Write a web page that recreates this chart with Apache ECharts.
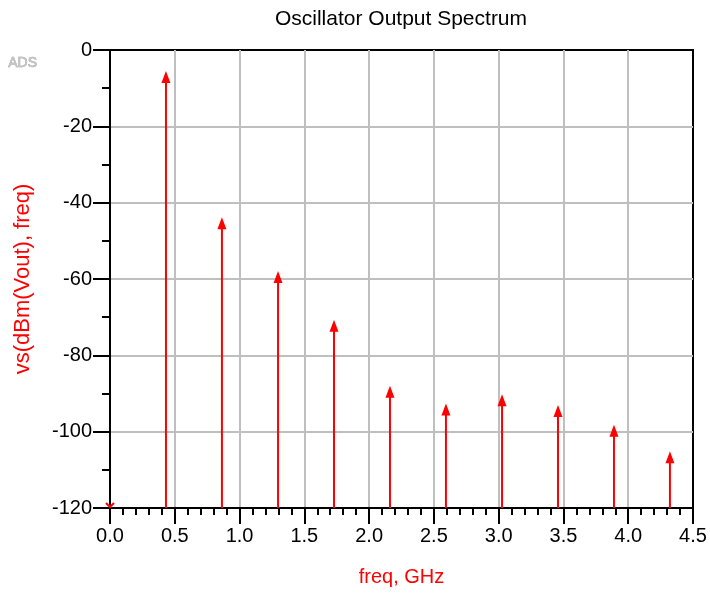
<!DOCTYPE html>
<html>
<head>
<meta charset="utf-8">
<script src="https://cdn.jsdelivr.net/npm/echarts@6/dist/echarts.min.js"></script>
<style>html,body{margin:0;padding:0;background:#fff}#chart{width:710px;height:593px}</style>
</head>
<body>
<div id="chart"></div>
<script>
// Data
const freqGHz = [0.0, 0.432, 0.864, 1.297, 1.729, 2.161, 2.593, 3.026, 3.458, 3.890, 4.322];
const levelDbm = [-120, -5.5, -43.8, -57.9, -70.7, -88.0, -92.6, -90.2, -93.0, -98.2, -105.1];
const titleText = 'Oscillator Output Spectrum';
const xName = 'freq, GHz';
const yName = 'vs(dBm(Vout), freq)';
const yMin = -120, yMax = 0, yInterval = 20;
const xMin = 0, xMax = 4.5, xInterval = 0.5;

const points = freqGHz.map((f, i) => [f, levelDbm[i]]);
const FONT = '"Liberation Sans", Arial, sans-serif';

const chart = echarts.init(document.getElementById('chart'), null, {renderer: 'canvas'});
chart.setOption({
  animation: false,
  backgroundColor: '#fff',
  graphic: [{
    type: 'text', x: 401, y: 9,
    style: {text: titleText, fill: '#000', font: '21px ' + FONT, textAlign: 'center', textVerticalAlign: 'top'}
  }, {
    type: 'text', left: 8, top: 56,
    style: {text: 'ADS', fill: '#c4c4c4', stroke: '#909090', lineWidth: 0.5, font: '14px ' + FONT}
  }],
  grid: {left: 110, right: 17, top: 50, bottom: 85, show: true, borderColor: '#000', borderWidth: 2, containLabel: false},
  xAxis: {
    type: 'value', min: xMin, max: xMax, interval: xInterval,
    name: xName, nameLocation: 'middle', nameGap: 59,
    nameTextStyle: {fontFamily: FONT, fontSize: 20, color: '#f00'},
    axisLine: {show: true, onZero: false, lineStyle: {color: '#000', width: 2}},
    axisTick: {show: true, length: 16, lineStyle: {color: '#000', width: 2}},
    minorTick: {show: true, splitNumber: 5, length: 7, lineStyle: {color: '#000', width: 2}},
    axisLabel: {fontFamily: FONT, fontSize: 20, color: '#000', margin: 18,
      formatter: v => v.toFixed(1)},
    splitLine: {show: true, showMinLine: false, showMaxLine: false, lineStyle: {color: '#bfbfbf', width: 2}}
  },
  yAxis: {
    type: 'value', min: yMin, max: yMax, interval: yInterval,
    name: yName, nameLocation: 'middle', nameGap: 76,
    nameTextStyle: {fontFamily: FONT, fontSize: 22, color: '#f00'},
    axisLine: {show: true, onZero: false, lineStyle: {color: '#000', width: 2}},
    axisTick: {show: true, length: 17, lineStyle: {color: '#000', width: 2}},
    minorTick: {show: true, splitNumber: 2, length: 8, lineStyle: {color: '#000', width: 2}},
    axisLabel: {fontFamily: FONT, fontSize: 20, color: '#000', margin: 18},
    splitLine: {show: true, showMinLine: false, showMaxLine: false, lineStyle: {color: '#bfbfbf', width: 2}}
  },
  series: [{
    type: 'custom',
    clip: false,
    data: points,
    renderItem: function (params, api) {
      const x = api.value(0), v = api.value(1);
      const tip = api.coord([x, v]);
      const base = api.coord([x, yMin]);
      if (v <= yMin) {
        return {
          type: 'polyline',
          shape: {points: [[tip[0] - 4, tip[1] - 5], [tip[0], tip[1] - 1], [tip[0] + 4, tip[1] - 5]]},
          style: {stroke: '#f00', lineWidth: 2, fill: null}
        };
      }
      return {
        type: 'group',
        children: [
          {type: 'line', shape: {x1: base[0], y1: base[1], x2: tip[0], y2: tip[1] + 10},
           style: {stroke: '#f00', lineWidth: 2}},
          {type: 'polygon', shape: {points: [[tip[0], tip[1]], [tip[0] - 4.5, tip[1] + 12], [tip[0] + 4.5, tip[1] + 12]]},
           style: {fill: '#f00'}}
        ]
      };
    }
  }]
});
</script>
</body>
</html>
